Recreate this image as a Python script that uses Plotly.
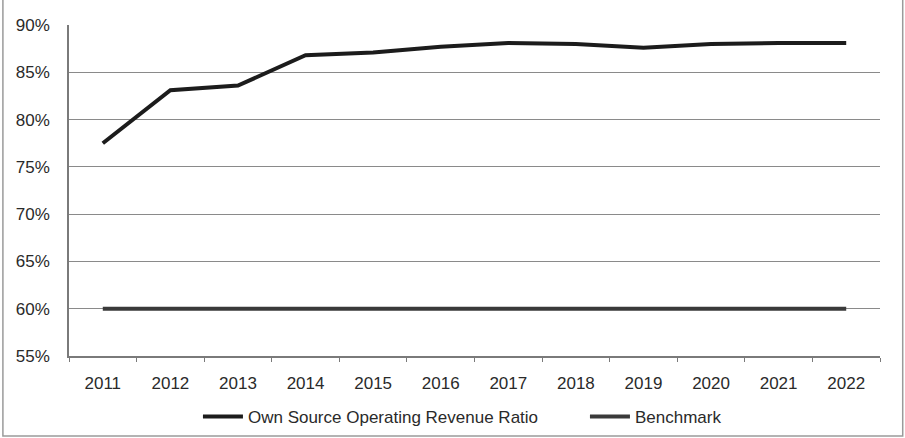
import plotly.graph_objects as go

years = ["2011", "2012", "2013", "2014", "2015", "2016",
         "2017", "2018", "2019", "2020", "2021", "2022"]
own_source_ratio = [77.5, 83.1, 83.6, 86.8, 87.1, 87.7,
                    88.1, 88.0, 87.6, 88.0, 88.1, 88.1]
benchmark = [60, 60, 60, 60, 60, 60, 60, 60, 60, 60, 60, 60]

FONT = "Liberation Sans, Arial, sans-serif"

fig = go.Figure()
fig.add_trace(go.Scatter(
    x=years, y=own_source_ratio, mode="lines",
    name="Own Source Operating Revenue Ratio",
    line=dict(color="#1c1c1c", width=4),
))
fig.add_trace(go.Scatter(
    x=years, y=benchmark, mode="lines",
    name="Benchmark",
    line=dict(color="#3a3a3a", width=4),
))

fig.update_layout(
    width=905, height=438,
    margin=dict(l=69, r=25, t=25, b=82, autoexpand=False),
    paper_bgcolor="white", plot_bgcolor="white",
    font=dict(family=FONT, size=17, color="#2a2a2a"),
    showlegend=True,
    legend=dict(
        orientation="h", x=0.159, xanchor="left",
        yref="container", y=0.048, yanchor="middle",
        font=dict(size=17), itemwidth=40, tracegroupgap=0,
        entrywidth=332, entrywidthmode="pixels",
        bgcolor="rgba(0,0,0,0)",
    ),
    shapes=[dict(
        type="rect", xref="paper", yref="paper",
        x0=-0.0815, x1=1.028, y0=-0.2417, y1=1.09,
        line=dict(color="#9a9a9a", width=1.5),
    )],
)

fig.update_xaxes(
    type="category", range=[-0.5, 11.5],
    showgrid=False, showline=True, linecolor="#7a7a7a", linewidth=1.5,
    ticks="outside", tickson="boundaries", ticklen=4, tickcolor="#7a7a7a",
    tickfont=dict(size=17), ticklabelstandoff=11,
    zeroline=False, automargin=False,
)
fig.update_yaxes(
    range=[55, 90], dtick=5, ticksuffix="%",
    showgrid=True, gridcolor="#8a8a8a", gridwidth=1.2,
    showline=True, linecolor="#7a7a7a", linewidth=1.5,
    ticks="", ticklen=0, tickfont=dict(size=17), ticklabelstandoff=14,
    zeroline=False, automargin=False,
)

fig.write_html("out.html")
